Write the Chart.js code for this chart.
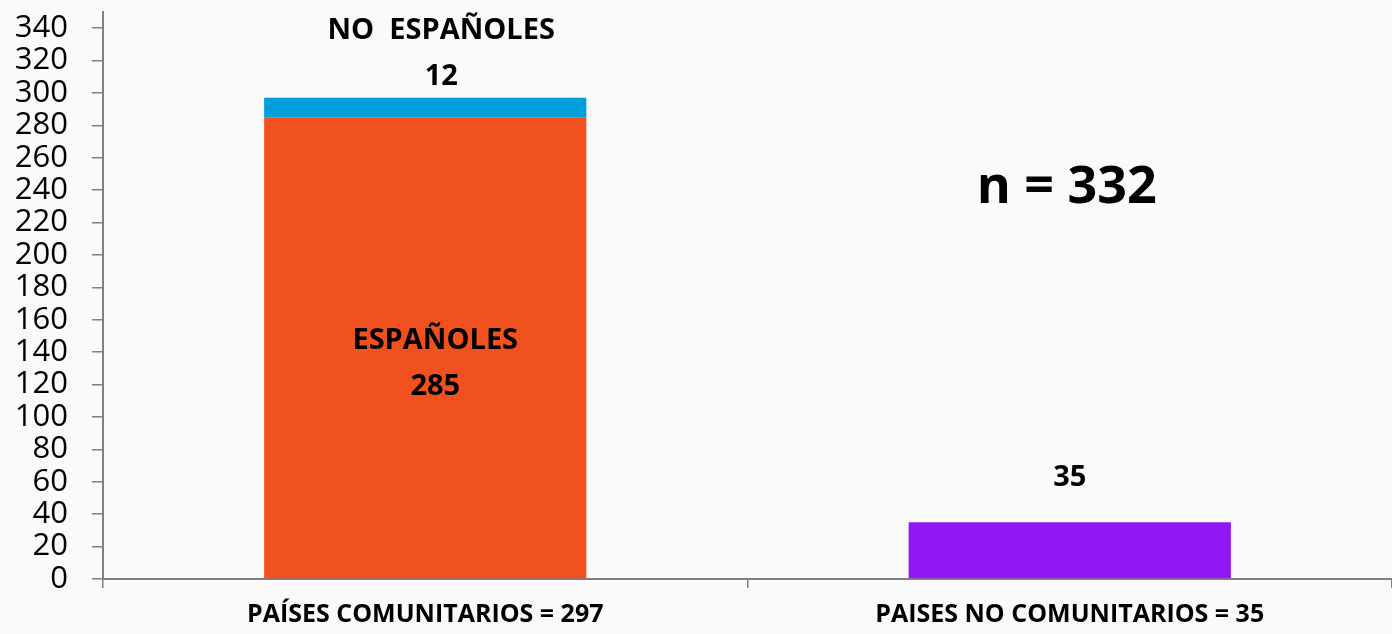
<!DOCTYPE html>
<html>
<head>
<meta charset="utf-8">
<script src="https://cdn.jsdelivr.net/npm/chart.js@4/dist/chart.umd.min.js"></script>
<style>
  html, body { margin: 0; padding: 0; background: #fafafa; }
  #wrap { width: 1392px; height: 634px; }
</style>
</head>
<body>
<div id="wrap"><canvas id="chart"></canvas></div>
<script>
let categories = ['PAÍSES COMUNITARIOS = 297', 'PAISES NO COMUNITARIOS = 35'];
let espanoles = [285, null];
let noEspanoles = [12, null];
let noComunitarios = [null, 35];
let yTicks = [0, 20, 40, 60, 80, 100, 120, 140, 160, 180, 200, 220, 240, 260, 280, 300, 320, 340];
let totalN = 332;

// texts written over the bars
const labelsPlugin = {
    id: 'barTexts',
    afterDatasetsDraw(chart) {
        const ctx = chart.ctx;
        const x = chart.scales.x;
        const y = chart.scales.y;
        const x0 = x.getPixelForValue(0);
        const x1 = x.getPixelForValue(1);
        const top1 = y.getPixelForValue(espanoles[0] + noEspanoles[0]);
        const mid1 = y.getPixelForValue(espanoles[0] / 2);
        const top2 = y.getPixelForValue(noComunitarios[1]);

        ctx.save();
        ctx.fillStyle = '#000';
        ctx.textAlign = 'center';
        ctx.textBaseline = 'middle';
        ctx.font = 'bold 29px "Open Sans"';
        ctx.fillText('NO  ESPAÑOLES', x0 + 16, top1 - 67);
        ctx.fillText(String(noEspanoles[0]), x0 + 16, top1 - 21);
        ctx.fillText('ESPAÑOLES', x0 + 10, mid1 - 7);
        ctx.fillText(String(espanoles[0]), x0 + 10, mid1 + 39);
        ctx.fillText(String(noComunitarios[1]), x1, top2 - 45);
        ctx.font = 'bold 52px "Open Sans"';
        ctx.fillText('n = ' + totalN, x1 - 3, y.getPixelForValue(241));
        ctx.restore();
    }
};

new Chart(document.getElementById('chart'), {
    type: 'bar',
    data: {
        labels: categories,
        datasets: [
            { label: 'ESPAÑOLES', data: espanoles, backgroundColor: '#F0511E' },
            { label: 'NO ESPAÑOLES', data: noEspanoles, backgroundColor: '#009FDA' },
            { label: 'NO COMUNITARIOS', data: noComunitarios, backgroundColor: '#9118F3' }
        ]
    },
    options: {
        responsive: true,
        maintainAspectRatio: false,
        animation: false,
        layout: { padding: { top: 12, right: 0, left: 0, bottom: 0 } },
        datasets: { bar: { categoryPercentage: 1, barPercentage: 0.5 } },
        plugins: { legend: { display: false }, tooltip: { enabled: false } },
        scales: {
            x: {
                stacked: true,
                offset: true,
                afterFit(scale) {
                    scale.height = 55;
                    scale.paddingLeft = 0;
                    scale.paddingRight = 0;
                },
                grid: { offset: true, drawOnChartArea: false, tickLength: 9, color: '#808080', lineWidth: 1.5 },
                border: { color: '#808080', width: 2 },
                ticks: { color: '#000', padding: 12, maxRotation: 0, font: { family: 'Open Sans', weight: 'bold', size: 25 } }
            },
            y: {
                stacked: true,
                min: 0,
                max: 350,
                afterFit(scale) {
                    scale.width = 103;
                    scale.paddingTop = 0;
                    scale.paddingBottom = 0;
                },
                afterBuildTicks(scale) { scale.ticks = yTicks.map(v => ({ value: v })); },
                grid: { drawOnChartArea: false, tickLength: 11, color: '#808080', lineWidth: 1.5 },
                border: { color: '#808080', width: 2 },
                ticks: { autoSkip: false, color: '#000', padding: 24, font: { family: 'Open Sans', size: 31, lineHeight: 1 } }
            }
        }
    },
    plugins: [labelsPlugin]
});
</script>
</body>
</html>
